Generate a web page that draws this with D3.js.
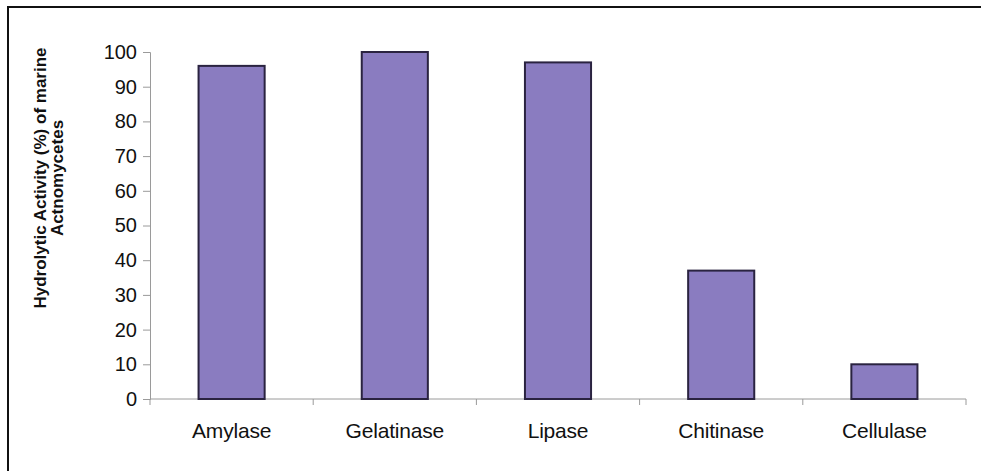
<!DOCTYPE html>
<html>
<head>
<meta charset="utf-8">
<script src="https://cdn.jsdelivr.net/npm/d3@7"></script>
<style>
  html, body { margin: 0; padding: 0; background: #fff; overflow: hidden; }
  svg { display: block; font-family: "Liberation Sans", Arial, sans-serif; }
</style>
</head>
<body>
<svg id="chart" width="981" height="471"></svg>
<script>
// Hydrolytic enzyme activity of marine actinomycete isolates
const categories = ["Amylase", "Gelatinase", "Lipase", "Chitinase", "Cellulase"];
const activity = [96, 100, 97, 37, 10];
const yTicks = [0, 10, 20, 30, 40, 50, 60, 70, 80, 90, 100];

const svg = d3.select("#chart");
const plot = { left: 150, right: 966, top: 52, bottom: 399 };

// outer frame: top and left edges (the rest runs off the page)
svg.append("path")
  .attr("d", "M8,471 L8,7 L981,7")
  .attr("fill", "none").attr("stroke", "#111").attr("stroke-width", 2);

const x = d3.scaleBand()
  .domain(categories)
  .range([plot.left, plot.right])
  .paddingInner(0.595)
  .paddingOuter(0.2975);

const y = d3.scaleLinear()
  .domain([0, 100])
  .range([plot.bottom, plot.top]);

// y axis
const yAxis = svg.append("g")
  .attr("transform", `translate(${plot.left},0)`)
  .call(d3.axisLeft(y).tickValues(yTicks).tickSize(7).tickPadding(6));
yAxis.select(".domain").attr("stroke", "#9a9a9a");
yAxis.selectAll(".tick line").attr("stroke", "#9a9a9a");
yAxis.selectAll(".tick text")
  .attr("fill", "#111").style("font-size", "20px");

// x axis with ticks at category boundaries
const step = x.step();
const boundaries = d3.range(categories.length + 1).map(i => plot.left + i * step);
svg.append("line")
  .attr("x1", plot.left).attr("x2", plot.right)
  .attr("y1", plot.bottom).attr("y2", plot.bottom)
  .attr("stroke", "#9a9a9a");
svg.append("g").selectAll("line")
  .data(boundaries)
  .join("line")
  .attr("x1", d => d).attr("x2", d => d)
  .attr("y1", plot.bottom).attr("y2", plot.bottom + 6)
  .attr("stroke", "#9a9a9a");

svg.append("g").selectAll("text")
  .data(categories)
  .join("text")
  .attr("x", d => x(d) + x.bandwidth() / 2)
  .attr("y", 438)
  .attr("text-anchor", "middle")
  .attr("fill", "#111")
  .style("font-size", "21px")
  .style("letter-spacing", "-0.2px")
  .text(d => d);

// bars
svg.append("g").selectAll("rect")
  .data(activity)
  .join("rect")
  .attr("x", (d, i) => x(categories[i]))
  .attr("y", d => y(d))
  .attr("width", x.bandwidth())
  .attr("height", d => y(0) - y(d))
  .attr("fill", "#8a7cc0")
  .attr("stroke", "#2a2340")
  .attr("stroke-width", 2);

// y axis title
const title = svg.append("text")
  .attr("transform", "translate(46,178) rotate(-90)")
  .attr("text-anchor", "middle")
  .attr("fill", "#111")
  .style("font-size", "17px")
  .style("font-weight", "bold");
title.append("tspan").attr("x", 0).attr("dy", 0).text("Hydrolytic Activity (%) of marine");
title.append("tspan").attr("x", 0).attr("dy", "1.0em").text("Actnomycetes");
</script>
</body>
</html>
